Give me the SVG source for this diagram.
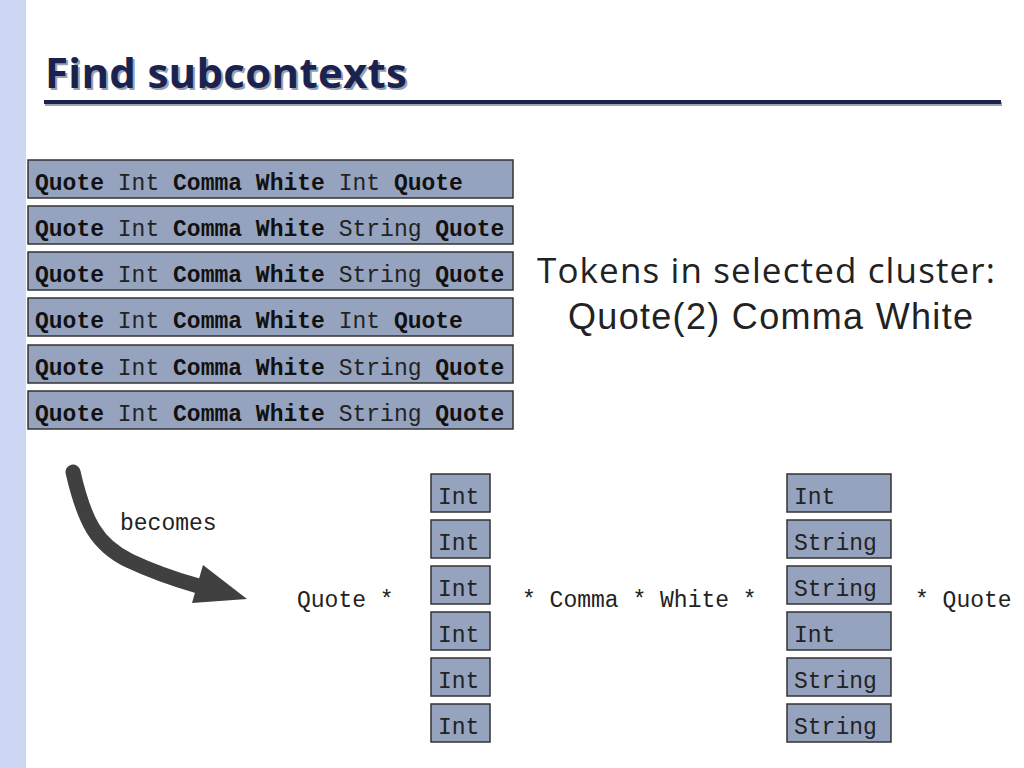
<svg xmlns="http://www.w3.org/2000/svg" width="1024" height="768" viewBox="0 0 1024 768">
<style>
.box{fill:#96a3bf;stroke:#333;stroke-width:1.5}
.m{font-family:"Liberation Mono","DejaVu Sans Mono",monospace;font-size:23px;fill:#222}
.b{font-weight:bold;fill:#111}
.t{font-family:"Open Sans","DejaVu Sans",sans-serif;font-weight:bold;font-size:42px}
</style>
<rect x="0" y="0" width="1024" height="768" fill="#fff"/>
<rect x="0" y="0" width="26" height="768" fill="#cdd6f2"/>
<g id="title">
<text class="t" x="47" y="90" fill="#9aa0b0" textLength="362">Find subcontexts</text>
<text class="t" x="45" y="88" fill="#1a2350" textLength="362">Find subcontexts</text>
<rect x="45" y="102" width="957" height="4" fill="#a0a4b0"/>
<rect x="44" y="100" width="957" height="4" fill="#1a2350"/>
</g>
<g id="rows">
<g id="row1"><rect class="box" x="28" y="160" width="485" height="38"/><text class="m" x="35" y="190"><tspan class="b">Quote</tspan> Int <tspan class="b">Comma</tspan> <tspan class="b">White</tspan> Int <tspan class="b">Quote</tspan></text></g>
<g id="row2"><rect class="box" x="28" y="206" width="485" height="38"/><text class="m" x="35" y="236"><tspan class="b">Quote</tspan> Int <tspan class="b">Comma</tspan> <tspan class="b">White</tspan> String <tspan class="b">Quote</tspan></text></g>
<g id="row3"><rect class="box" x="28" y="252" width="485" height="38"/><text class="m" x="35" y="282"><tspan class="b">Quote</tspan> Int <tspan class="b">Comma</tspan> <tspan class="b">White</tspan> String <tspan class="b">Quote</tspan></text></g>
<g id="row4"><rect class="box" x="28" y="298" width="485" height="38"/><text class="m" x="35" y="328"><tspan class="b">Quote</tspan> Int <tspan class="b">Comma</tspan> <tspan class="b">White</tspan> Int <tspan class="b">Quote</tspan></text></g>
<g id="row5"><rect class="box" x="28" y="345" width="485" height="38"/><text class="m" x="35" y="375"><tspan class="b">Quote</tspan> Int <tspan class="b">Comma</tspan> <tspan class="b">White</tspan> String <tspan class="b">Quote</tspan></text></g>
<g id="row6"><rect class="box" x="28" y="391" width="485" height="38"/><text class="m" x="35" y="421"><tspan class="b">Quote</tspan> Int <tspan class="b">Comma</tspan> <tspan class="b">White</tspan> String <tspan class="b">Quote</tspan></text></g>
</g>
<g id="caption">
<text x="537" y="283" font-family="'Open Sans','DejaVu Sans',sans-serif" font-size="35" fill="#222" textLength="458">Tokens in selected cluster:</text>
<text x="568" y="329" font-family="'Liberation Sans',Arial,sans-serif" font-size="36" fill="#222" textLength="405">Quote(2) Comma White</text>
</g>
<g id="connectors">
<path d="M73,472 C84,520 96,545 130,561 S185,582 205,588" fill="none" stroke="#404040" stroke-width="15" stroke-linecap="round"/>
<polygon points="203,565 247,599 192,603" fill="#404040"/>
<text class="m" x="120" y="530" fill="#444">becomes</text>
</g>
<g id="pattern">
<text class="m" x="297" y="607">Quote *</text>
<text class="m" x="522" y="607">* Comma * White *</text>
<text class="m" x="915" y="607">* Quote</text>
</g>
<g id="ints">
<rect class="box" x="431" y="474" width="59" height="38"/><text class="m" x="438" y="504">Int</text>
<rect class="box" x="431" y="520" width="59" height="38"/><text class="m" x="438" y="550">Int</text>
<rect class="box" x="431" y="566" width="59" height="38"/><text class="m" x="438" y="596">Int</text>
<rect class="box" x="431" y="612" width="59" height="38"/><text class="m" x="438" y="642">Int</text>
<rect class="box" x="431" y="658" width="59" height="38"/><text class="m" x="438" y="688">Int</text>
<rect class="box" x="431" y="704" width="59" height="38"/><text class="m" x="438" y="734">Int</text>
</g>
<g id="values">
<rect class="box" x="787" y="474" width="104" height="38"/><text class="m" x="794" y="504">Int</text>
<rect class="box" x="787" y="520" width="104" height="38"/><text class="m" x="794" y="550">String</text>
<rect class="box" x="787" y="566" width="104" height="38"/><text class="m" x="794" y="596">String</text>
<rect class="box" x="787" y="612" width="104" height="38"/><text class="m" x="794" y="642">Int</text>
<rect class="box" x="787" y="658" width="104" height="38"/><text class="m" x="794" y="688">String</text>
<rect class="box" x="787" y="704" width="104" height="38"/><text class="m" x="794" y="734">String</text>
</g>
</svg>
